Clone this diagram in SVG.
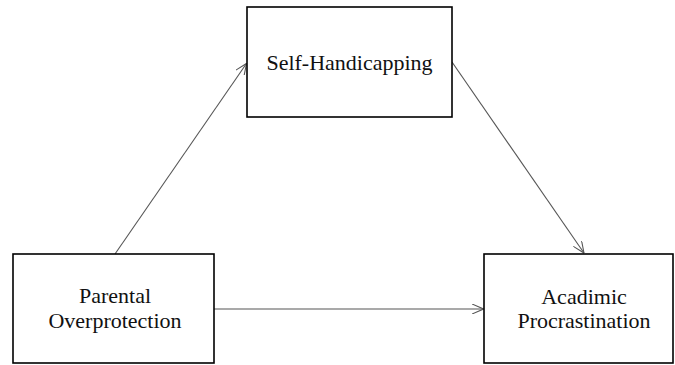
<svg xmlns="http://www.w3.org/2000/svg" width="675" height="365" viewBox="0 0 675 365">
<style>
.box{fill:#fff;stroke:#000;stroke-width:1.6}
.lbl{font-family:"Liberation Serif","Times New Roman",serif;font-size:22px;fill:#111;text-anchor:middle}
.edge{stroke:#555;stroke-width:1.1;fill:none;marker-end:url(#ah)}
</style>
<defs>
<marker id="ah" viewBox="0 0 12 10" refX="11.5" refY="5" markerWidth="12" markerHeight="10" markerUnits="userSpaceOnUse" orient="auto">
<path d="M0,0 L11.5,5 L0,10" fill="none" stroke="#555" stroke-width="1.1"/>
</marker>
</defs>
<rect width="675" height="365" fill="#fff"/>
<g id="connectors">
<line class="edge" x1="115" y1="254" x2="246.5" y2="63.5"/>
<line class="edge" x1="452" y1="62" x2="584" y2="253"/>
<line class="edge" x1="214" y1="309" x2="483.5" y2="309"/>
</g>
<g id="self-handicapping">
<rect class="box" x="247" y="7" width="205" height="110"/>
<text class="lbl" x="349.5" y="70">Self-Handicapping</text>
</g>
<g id="parental-overprotection">
<rect class="box" x="13" y="254" width="201" height="109"/>
<text class="lbl" x="115" y="303">Parental</text>
<text class="lbl" x="115" y="328">Overprotection</text>
</g>
<g id="academic-procrastination">
<rect class="box" x="484" y="254" width="189" height="109"/>
<text class="lbl" x="584" y="304">Acadimic</text>
<text class="lbl" x="584" y="328">Procrastination</text>
</g>
</svg>
